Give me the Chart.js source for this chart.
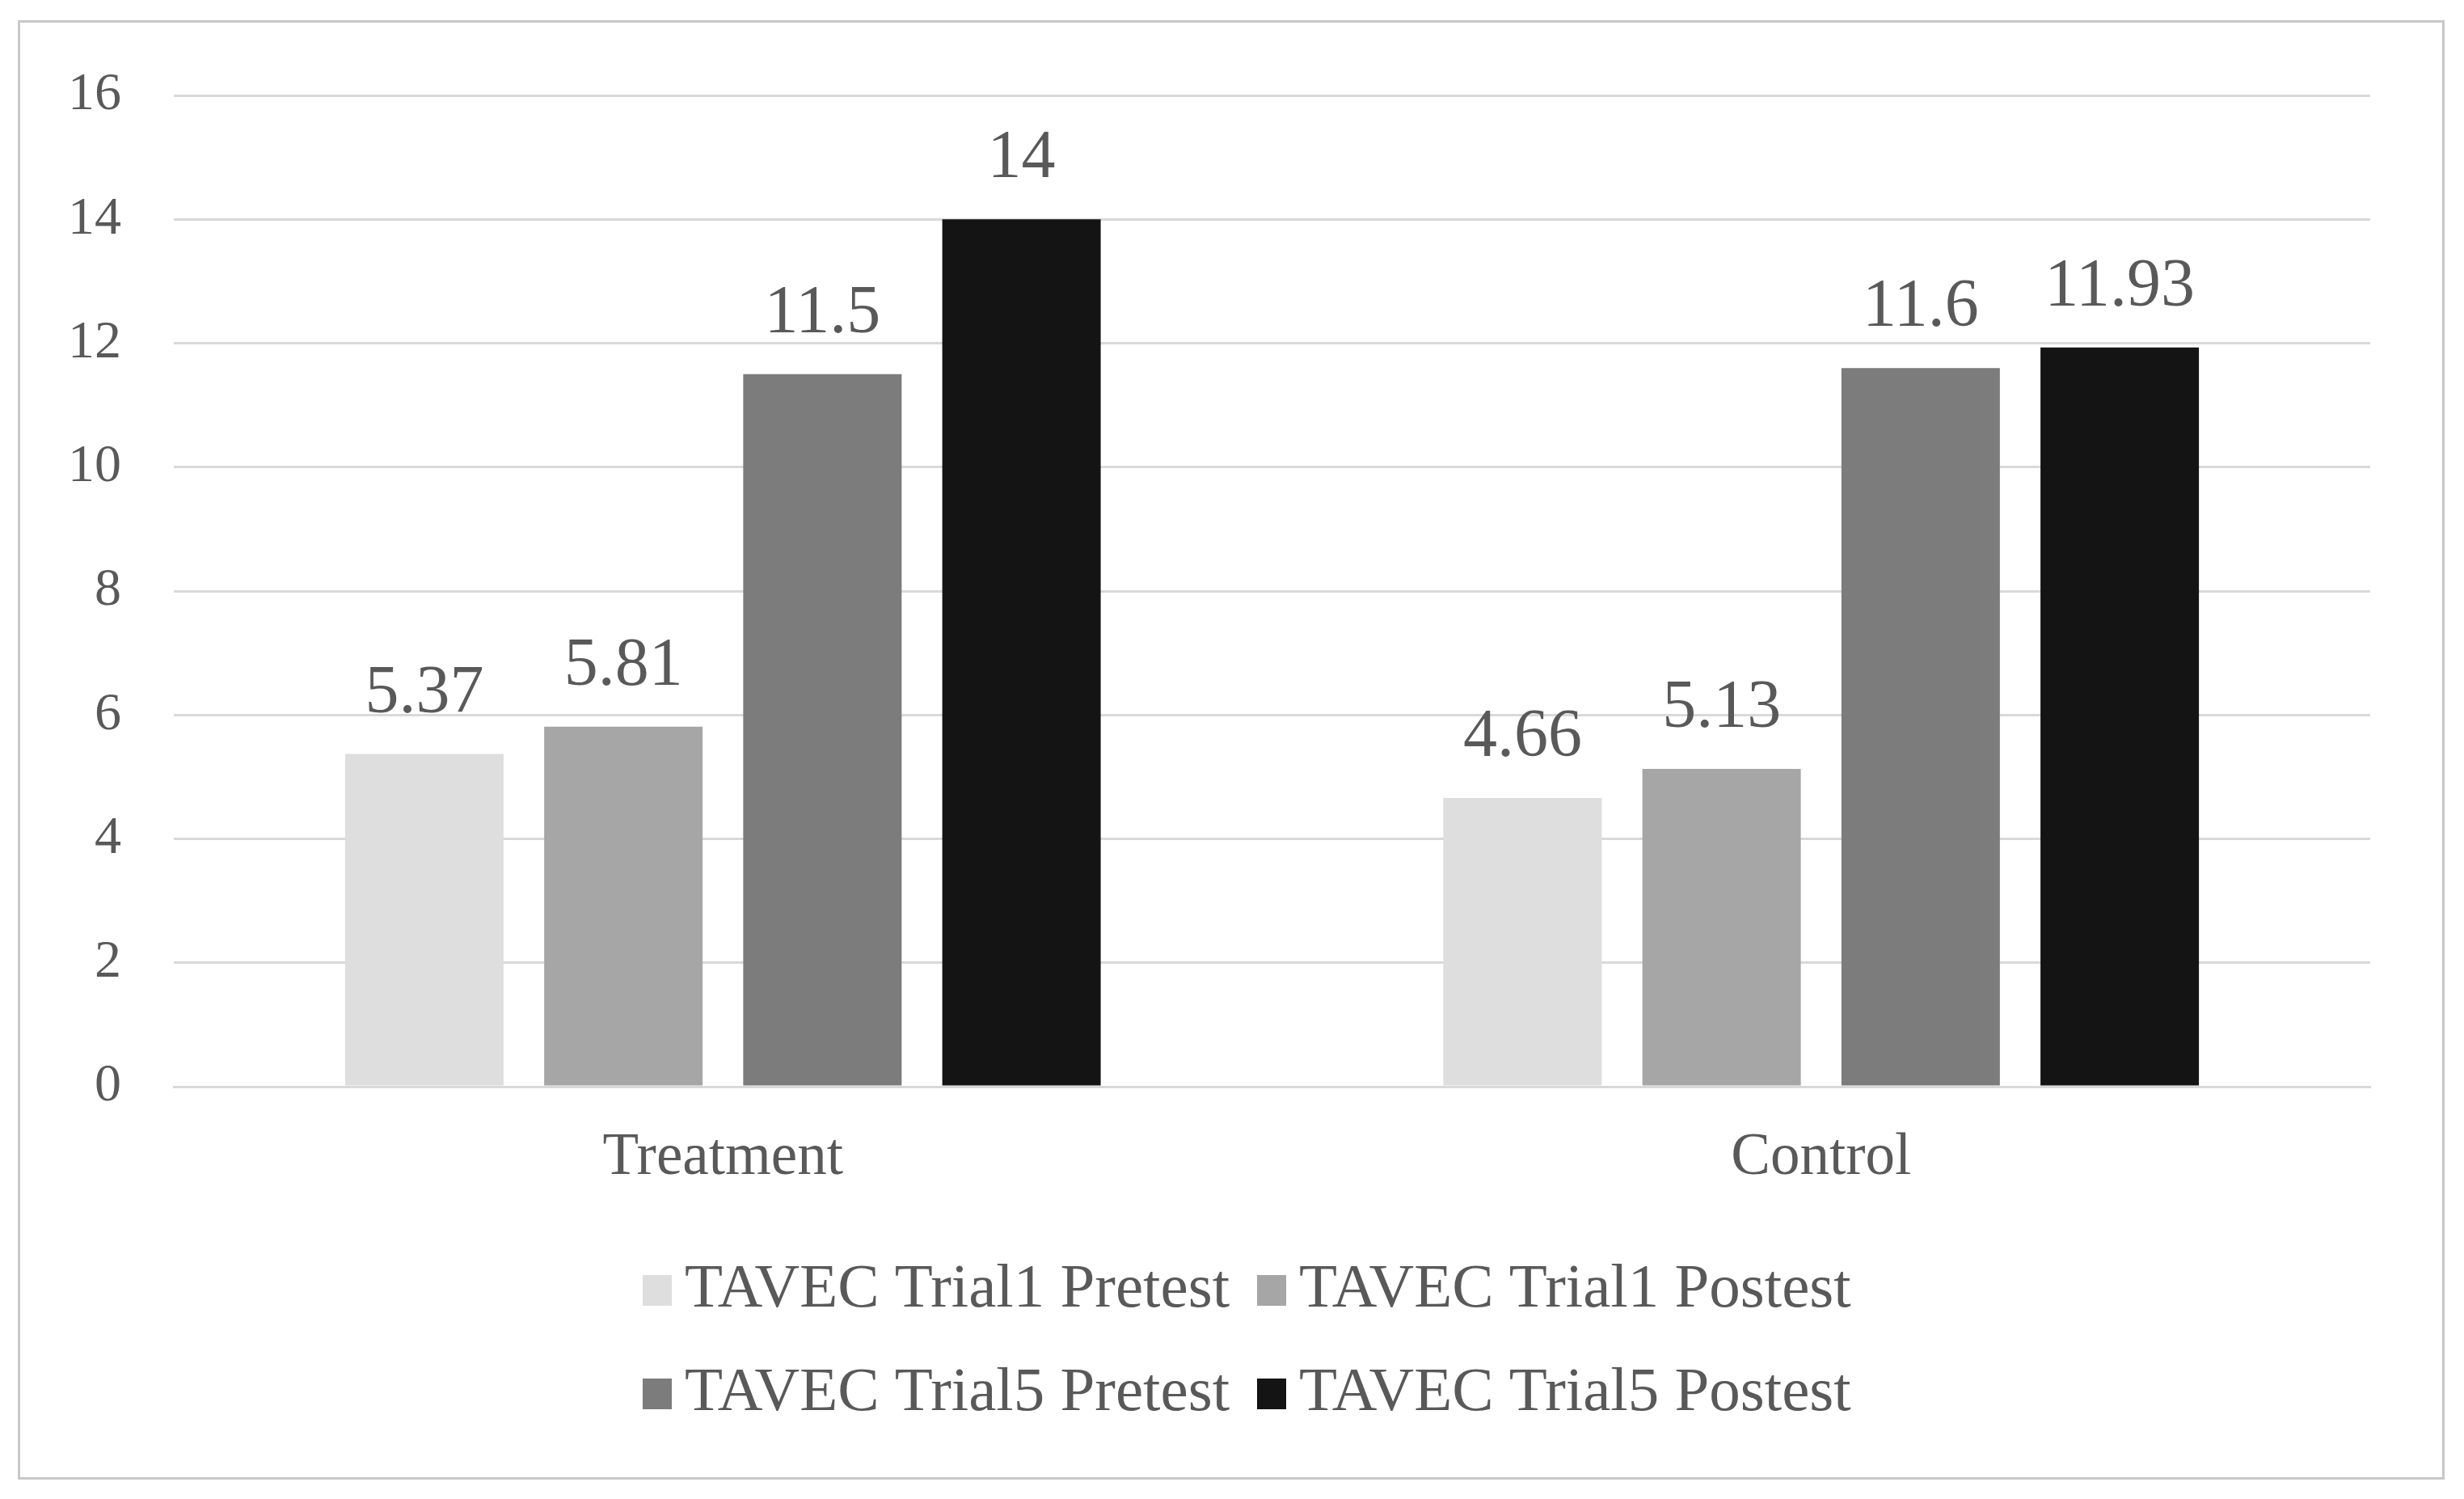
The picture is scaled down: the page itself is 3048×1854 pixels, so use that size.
<!DOCTYPE html>
<html>
<head>
<meta charset="utf-8">
<script src="https://cdn.jsdelivr.net/npm/chart.js@4"></script>
<style>
    html, body { margin: 0; padding: 0; background: #fff; }
    #wrap { position: relative; width: 3048px; height: 1854px; }
    #frame { position: absolute; left: 22px; top: 25px; width: 2996px; height: 1799px; border: 3px solid #c8c8c8; }
    #chart { position: absolute; left: 0; top: 0; }
</style>
</head>
<body>
<div id="wrap">
    <div id="frame"></div>
    <canvas id="chart" width="3048" height="1854"></canvas>
</div>
<script>
// Data
    const groups = ['Treatment', 'Control'];
    const seriesNames = ['TAVEC Trial1 Pretest', 'TAVEC Trial1 Postest', 'TAVEC Trial5 Pretest', 'TAVEC Trial5 Postest'];
    const trial1Pretest = [5.37, 4.66];
    const trial1Postest = [5.81, 5.13];
    const trial5Pretest = [11.5, 11.6];
    const trial5Postest = [14, 11.93];
    const seriesColors = ['#dedede', '#a6a6a6', '#7c7c7c', '#141414'];
    const yTicks = [0, 2, 4, 6, 8, 10, 12, 14, 16];

    const textColor = '#595959';
    const serif = 'Liberation Serif';

// setup
    const seriesValues = [trial1Pretest, trial1Postest, trial5Pretest, trial5Postest];
    const data = {
        labels: groups,
        datasets: seriesNames.map((name, i) => ({
            label: name,
            data: seriesValues[i],
            backgroundColor: seriesColors[i],
            borderWidth: 0,
            categoryPercentage: 0.725,
            barPercentage: 0.796
        }))
    };

// value labels above bars
    const valueLabels = {
        id: 'valueLabels',
        afterDatasetsDraw(chart) {
            const ctx = chart.ctx;
            ctx.save();
            ctx.font = '84px "' + serif + '"';
            ctx.fillStyle = textColor;
            ctx.textAlign = 'center';
            ctx.textBaseline = 'alphabetic';
            chart.data.datasets.forEach((ds, i) => {
                chart.getDatasetMeta(i).data.forEach((bar, j) => {
                    ctx.fillText(String(ds.data[j]), bar.x, bar.y - 52);
                });
            });
            ctx.restore();
        }
    };

// legend in two rows of two
    const gridLegend = {
        id: 'gridLegend',
        afterDraw(chart) {
            const ctx = chart.ctx;
            const cols = [795, 1555];
            const rows = [1596, 1724];
            ctx.save();
            ctx.font = '77px "' + serif + '"';
            ctx.textBaseline = 'middle';
            ctx.textAlign = 'left';
            chart.data.datasets.forEach((ds, i) => {
                const x = cols[i % 2];
                const y = rows[Math.floor(i / 2)];
                ctx.fillStyle = ds.backgroundColor;
                ctx.fillRect(x, y - 19, 36, 38);
                ctx.fillStyle = textColor;
                ctx.fillText(ds.label, x + 52, y);
            });
            ctx.restore();
        }
    };

// config
    const config = {
        type: 'bar',
        data,
        options: {
            responsive: false,
            animation: false,
            layout: { padding: { top: 118, right: 116, bottom: 310, left: 0 } },
            plugins: {
                legend: { display: false },
                tooltip: { enabled: false }
            },
            scales: {
                x: {
                    grid: { display: false, drawTicks: false },
                    border: { display: true, color: '#d9d9d9', width: 3 },
                    ticks: {
                        color: textColor,
                        font: { family: serif, size: 73 },
                        padding: 45
                    },
                    afterFit: s => { s.height = 200; }
                },
                y: {
                    min: 0,
                    max: 16,
                    afterBuildTicks: s => { s.ticks = yTicks.map(v => ({ value: v })); },
                    grid: { color: '#d9d9d9', lineWidth: 3, drawTicks: false },
                    border: { display: false },
                    ticks: {
                        color: textColor,
                        font: { family: serif, size: 66 },
                        padding: 65
                    },
                    afterFit: s => { s.width = 215; }
                }
            }
        },
        plugins: [valueLabels, gridLegend]
    };

// render
    const myChart = new Chart(document.getElementById('chart'), config);
</script>
</body>
</html>
